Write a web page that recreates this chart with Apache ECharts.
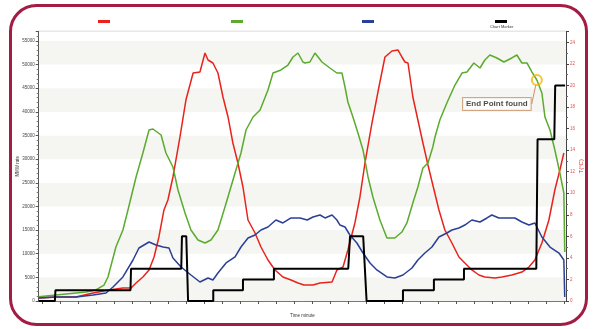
<!DOCTYPE html>
<html>
<head>
<meta charset="utf-8">
<script src="https://cdn.jsdelivr.net/npm/echarts@6/dist/echarts.min.js"></script>
<style>
  html, body { margin: 0; padding: 0; background: #ffffff; }
  #chart { width: 595px; height: 329px; }
</style>
</head>
<body>
<div id="chart"></div>
<script>
// Time axis tick positions (minutes)
const timeTicks = [2, 12, 22, 32, 42, 52, 62, 72, 82, 92, 102, 112, 122, 132, 142,
  152, 162, 172, 182, 192, 202, 212, 222, 232, 242, 252, 262, 272, 282, 292];

// Red trace: [time, rate]
const redData = [
  [0, 630], [9.6, 850], [20.7, 850], [30.2, 1690], [39.1, 2330], [46.8, 2750], [51.3, 2750],
  [54.1, 3810], [57.9, 5080], [61.3, 6560], [64.1, 9310], [66.8, 13540], [69.6, 19250],
  [71.8, 21360], [74.6, 26230], [78.5, 34690], [81.8, 42510], [85.8, 48220], [89.6, 48430],
  [92.4, 52450], [94.1, 50970], [96.8, 50340], [99.6, 48220], [102.4, 43150], [105.2, 38920],
  [107.9, 33420], [110.7, 29190], [113.5, 24110], [116.3, 17130], [120.2, 14380], [123.5, 11420],
  [127.4, 8670], [131.3, 6560], [135.7, 5080], [140.2, 4440], [144.1, 3810], [147.4, 3380],
  [152.4, 3380], [156.3, 3810], [163, 4020], [165.7, 6560], [169.1, 7190], [171.8, 10790],
  [175.7, 16500], [178.5, 22000], [181.3, 29190], [185.2, 37650], [188.5, 44200], [192.4, 51610],
  [196.3, 52880], [199.6, 53090], [201.8, 51610], [203.5, 50550], [205.2, 50340], [207.9, 43150],
  [210.7, 38280], [213.5, 33420], [216.3, 28760], [219, 24530], [222.4, 19250], [225.7, 15020],
  [229.6, 12270], [233.5, 9310], [236.8, 8040], [240.7, 6560], [244.6, 5500], [247.9, 5080],
  [253.5, 4870], [257.4, 5080], [262.9, 5500], [268.5, 6130], [272.4, 7190], [275.7, 8670],
  [279.6, 12270], [283.5, 17130], [286.8, 23480], [289.6, 27710], [291.8, 31300]
];

// Green trace: [time, rate]
const greenData = [
  [0, 900], [9.6, 1270], [20.7, 1690], [26.3, 1900], [31.8, 2330], [36.3, 3380], [38.5, 5080],
  [42.9, 11420], [46.8, 15020], [49.6, 19250], [54.1, 26230], [57.9, 31300], [61.3, 36170],
  [63.5, 36380], [68, 35110], [70.7, 31300], [71.8, 30880], [74.6, 28340], [77.4, 23480],
  [81.3, 18610], [84.6, 15020], [88.5, 12900], [92.4, 12270], [95.7, 12900], [99.6, 15020],
  [103.5, 19880], [106.8, 24110], [109.6, 27710], [112.4, 31300], [115.2, 36170], [119.1, 38920],
  [123, 40400], [127.4, 44630], [130.2, 48220], [134.6, 48860], [138.5, 49910], [141.3, 51610],
  [144.1, 52450], [146.8, 50550], [148, 50340], [150.7, 50550], [153.5, 52450], [157.4, 50550],
  [161.8, 49280], [165.7, 48220], [168.5, 48220], [170.2, 45260], [171.8, 42090], [174.6, 38920],
  [177.4, 35530], [180.2, 31940], [183, 26230], [185.7, 22000], [189.6, 17130], [193.5, 13330],
  [197.9, 13330], [201.8, 14590], [204.6, 16500], [207.9, 20730], [210.7, 24110], [213.5, 28130],
  [216.3, 29190], [219, 32570], [220.2, 34690], [222.9, 38280], [226.8, 41880], [231.3, 45680],
  [235.2, 48220], [238, 48430], [241.8, 50340], [245.2, 49280], [247.9, 50970], [250.7, 52030],
  [254.6, 51400], [258.5, 50550], [262.9, 51400], [265.7, 52030], [268.5, 50340], [271.3, 50340],
  [274.1, 48430], [276.8, 46740], [279.6, 43990], [281.3, 38920], [284.1, 36170], [286.8, 31940],
  [289.6, 27070], [291.8, 22840], [292.3, 10360]
];

// Blue trace: [time, rate]
const blueData = [
  [0, 630], [9.6, 850], [20.7, 850], [30.2, 1270], [37.4, 1690], [41.3, 2960], [46.8, 5080],
  [52.4, 8670], [55.7, 11210], [61.3, 12480], [65.2, 11840], [69.1, 11420], [72.4, 11210],
  [74.6, 9100], [79.1, 7190], [84.6, 5500], [89.6, 4020], [94.1, 4870], [96.8, 4440],
  [99.6, 5920], [104.1, 8040], [109.1, 9310], [112.4, 11420], [116.3, 13330], [120.2, 13960],
  [123.5, 15020], [127.4, 15650], [131.8, 17130], [135.7, 16500], [140.2, 17560], [145.2, 17560],
  [149.2, 17130], [152.4, 17770], [156.3, 18190], [159.1, 17560], [163, 18190], [165.7, 17130],
  [167.4, 16070], [170.2, 15650], [172.9, 13960], [176.8, 12270], [180.2, 10150], [184.1, 8040],
  [187.9, 6560], [193.5, 5080], [197.9, 4870], [202.4, 5500], [207.4, 6980], [210.7, 8670],
  [214.6, 10150], [218.5, 11420], [222.4, 13540], [226.8, 14380], [229.6, 15020], [233.5, 15440],
  [236.8, 16070], [240.7, 17130], [245.2, 16710], [249.1, 17560], [251.8, 18190], [255.7, 17560],
  [259, 17560], [264.6, 17560], [268.5, 16710], [272.4, 16070], [275.7, 16500], [279.6, 13540],
  [284.1, 11420], [289.1, 10150], [291.8, 8670], [292.3, 850]
];

// Chart Marker step trace: [time, marker level]
const markerData = [
  [0, 0], [9, 0], [9.3, 1], [51, 1], [51.3, 3], [79.2, 3], [79.6, 6], [82, 6], [83, 0],
  [97, 0], [97, 1], [113.5, 1], [113.5, 2], [130.7, 2], [130.7, 3], [172, 3], [173, 6],
  [180.3, 6], [182.2, 0], [202.4, 0], [202.4, 1], [219.6, 1], [219.6, 2], [236.3, 2],
  [236.3, 3], [276.5, 3], [277.2, 15], [286.5, 15], [287, 20], [292.5, 20]
];

// Detected end point on the green trace
const endPoint = [[276.8, 46740]];
const endPointText = 'End Point found';

const seriesNames = ['Red', 'Green', 'Blue', 'Chart Marker'];
const seriesColors = ['#e8231c', '#5aab2e', '#2a3f95', '#000000'];
const legendLeft = [98, 231, 362, 495];

const chart = echarts.init(document.getElementById('chart'), null, { renderer: 'canvas' });

const lineSeries = (i, data, yAxisIndex, width) => ({
  name: seriesNames[i],
  type: 'line',
  data: data,
  yAxisIndex: yAxisIndex,
  showSymbol: false,
  symbol: 'none',
  smooth: false,
  lineStyle: { color: seriesColors[i], width: width },
  itemStyle: { color: seriesColors[i] },
  z: 3 + i,
  animation: false
});

const option = {
  animation: false,
  backgroundColor: '#ffffff',
  textStyle: { fontFamily: 'Liberation Sans, Arial, sans-serif' },
  grid: {
    left: 38.7, right: 29, top: 31.5, bottom: 28,
    outerBoundsMode: 'none',
    containLabel: false,
    show: true, borderColor: '#cfcfcf', borderWidth: 1.5, backgroundColor: 'transparent'
  },
  legend: seriesNames.map((n, i) => ({
    data: [n],
    left: legendLeft[i],
    top: 20,
    padding: 0,
    itemGap: 0,
    icon: 'rect',
    itemWidth: 12,
    itemHeight: 3,
    selectedMode: false,
    formatter: () => '',
    textStyle: { fontSize: 1 }
  })),
  xAxis: {
    type: 'value',
    min: 0,
    max: 293,
    name: 'Time minute',
    nameLocation: 'middle',
    nameGap: 12,
    nameMoveOverlap: false,
    nameTextStyle: { fontSize: 4.5, color: '#333' },
    axisLine: { show: true, lineStyle: { color: '#777', width: 1 } },
    axisTick: { show: true, length: 3, customValues: timeTicks, lineStyle: { color: '#555' } },
    axisLabel: { show: false },
    splitLine: { show: false }
  },
  yAxis: [
    {
      type: 'value',
      min: 0,
      max: 57000,
      interval: 5000,
      name: 'MMW rate',
      nameLocation: 'middle',
      nameRotate: 90,
      nameGap: 18,
      nameMoveOverlap: false,
      nameTextStyle: { fontSize: 4.5, color: '#333' },
      axisLine: { show: true, lineStyle: { color: '#555', width: 1 } },
      axisTick: { show: true, length: 3, lineStyle: { color: '#555' } },
      minorTick: { show: true, splitNumber: 5, length: 2, lineStyle: { color: '#777' } },
      axisLabel: { fontSize: 4.5, color: '#444', margin: 4, showMaxLabel: false, formatter: v => String(v) },
      splitLine: { show: false },
      splitArea: { show: true, areaStyle: { color: ['#f5f5f1', '#ffffff'] } }
    },
    {
      type: 'value',
      min: 0,
      max: 25,
      interval: 2,
      position: 'right',
      name: 'T(°C)',
      nameLocation: 'middle',
      nameRotate: 90,
      nameGap: 12,
      nameMoveOverlap: false,
      nameTextStyle: { fontSize: 6, color: '#e8231c' },
      axisLine: { show: true, lineStyle: { color: '#444', width: 1 } },
      axisTick: { show: true, length: 3, lineStyle: { color: '#444' } },
      minorTick: { show: true, splitNumber: 2, length: 2, lineStyle: { color: '#666' } },
      axisLabel: { fontSize: 4.5, color: '#e05050', margin: 4, showMaxLabel: false },
      splitLine: { show: false },
      splitArea: { show: false }
    }
  ],
  series: [
    lineSeries(0, redData, 0, 1.5),
    lineSeries(1, greenData, 0, 1.5),
    lineSeries(2, blueData, 0, 1.5),
    lineSeries(3, markerData, 1, 2),
    {
      type: 'scatter',
      data: endPoint,
      yAxisIndex: 0,
      symbol: 'circle',
      symbolSize: 10,
      itemStyle: { color: 'rgba(0,0,0,0)', borderColor: '#f2b705', borderWidth: 2 },
      z: 10,
      label: {
        show: true,
        position: 'inside',
        formatter: endPointText,
        fontSize: 8,
        fontWeight: 'bold',
        color: '#1e1e1e',
        backgroundColor: '#ffffff',
        borderColor: '#c9926a',
        borderWidth: 1,
        padding: [2, 3, 2, 3]
      },
      labelLayout: { dx: -40, dy: 24 },
      labelLine: { show: true, lineStyle: { color: '#c9926a', width: 1 } },
      silent: true
    }
  ],
  graphic: [
    {
      type: 'rect',
      shape: { x: 10.5, y: 5.5, width: 576, height: 319, r: 26 },
      style: { fill: 'none', stroke: '#a31c44', lineWidth: 3 },
      silent: true,
      z: 100
    },
    {
      type: 'text',
      left: 490,
      top: 25,
      style: { text: 'Chart Marker', fontSize: 4, fill: '#333', fontFamily: 'Liberation Sans, Arial, sans-serif' },
      silent: true
    }
  ]
};

chart.setOption(option);
</script>
</body>
</html>
